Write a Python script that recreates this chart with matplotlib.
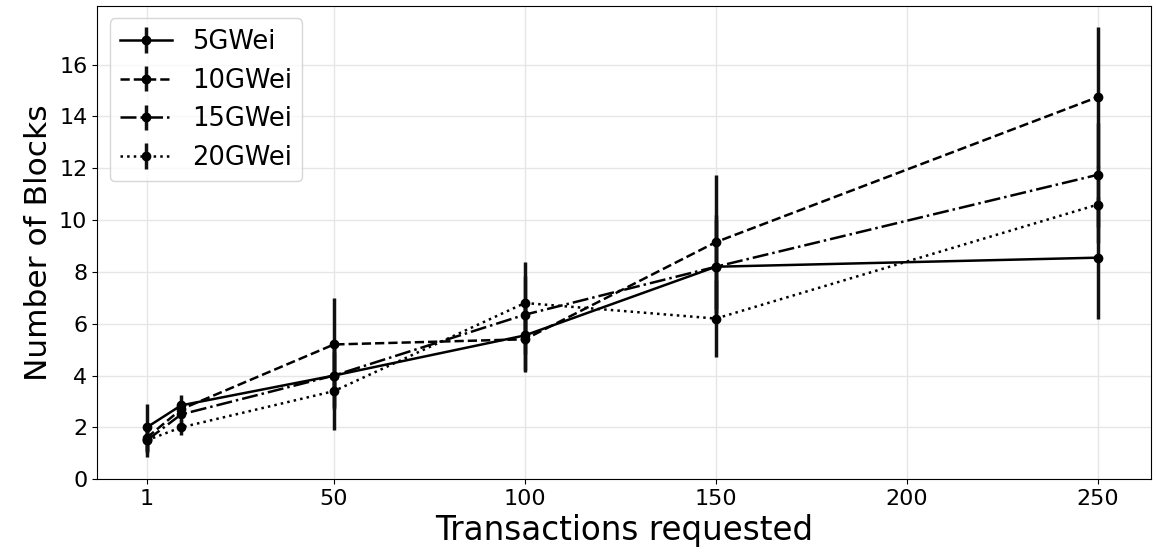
import matplotlib
matplotlib.use("Agg")
import matplotlib.pyplot as plt

# Data
transactions = [1, 10, 50, 100, 150, 250]
xticks = [1, 50, 100, 150, 200, 250]

labels = ["5GWei", "10GWei", "15GWei", "20GWei"]
styles = ["-", "--", "-.", ":"]

blocks_5 = [2.0, 2.85, 4.0, 5.55, 8.2, 8.55]
blocks_10 = [1.6, 2.7, 5.2, 5.4, 9.15, 14.75]
blocks_15 = [1.5, 2.5, 4.0, 6.35, 8.2, 11.75]
blocks_20 = [1.5, 2.0, 3.4, 6.8, 6.2, 10.6]

err_5 = [0.9, 0.4, 1.2, 1.4, 1.8, 2.35]
err_10 = [0.5, 0.3, 1.8, 1.2, 2.6, 2.7]
err_15 = [0.5, 0.3, 1.3, 1.5, 2.0, 2.0]
err_20 = [0.65, 0.3, 1.5, 1.6, 1.5, 1.5]

series = [blocks_5, blocks_10, blocks_15, blocks_20]
errors = [err_5, err_10, err_15, err_20]

fig, ax = plt.subplots(figsize=(11.56, 5.54), dpi=100)
fig.subplots_adjust(left=0.084, right=0.996, top=0.99, bottom=0.135)

for values, err, ls, label in zip(series, errors, styles, labels):
    ax.errorbar(transactions, values, yerr=err, color="black", linestyle=ls,
                linewidth=1.8, marker="o", markersize=6,
                elinewidth=2.5, ecolor="#111111", label=label)

ax.set_xlim(-12, 264)
ax.set_ylim(bottom=0)
ax.set_xticks(xticks)
ax.set_yticks(range(0, 17, 2))
ax.tick_params(labelsize=16)
ax.grid(True, color="#e6e6e6", linewidth=1)
ax.set_axisbelow(True)

ax.set_xlabel("Transactions requested", fontsize=23.5)
ax.set_ylabel("Number of Blocks", fontsize=22.5)
ax.legend(loc="upper left", fontsize=18.5)

plt.savefig("out.png")
